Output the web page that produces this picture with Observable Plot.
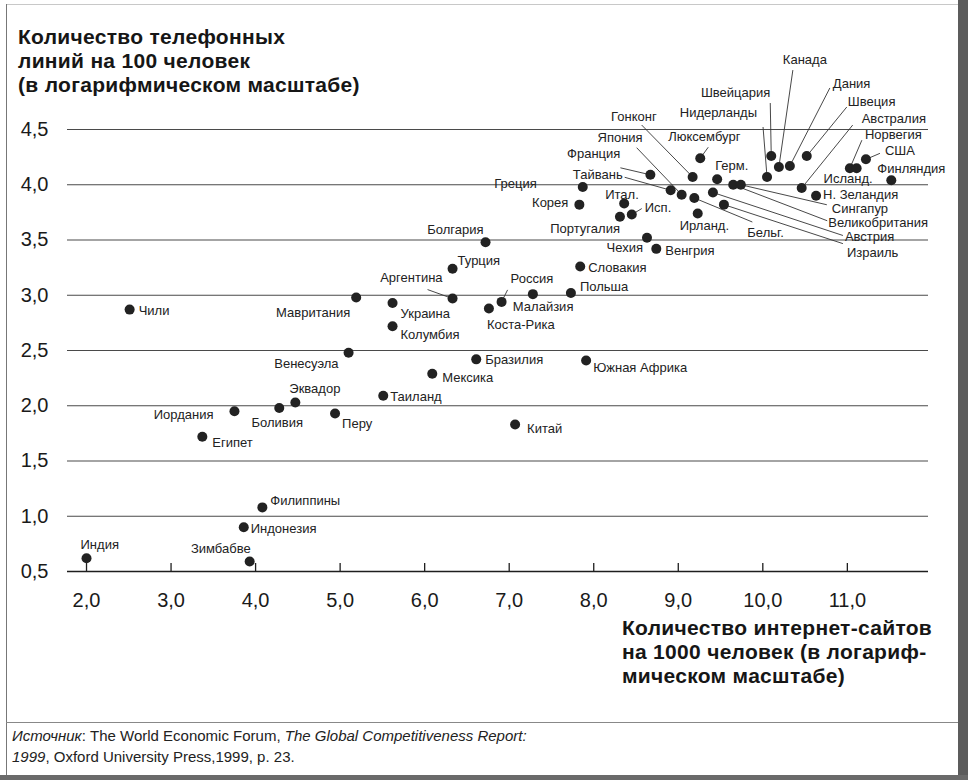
<!DOCTYPE html>
<html>
<head>
<meta charset="utf-8">
<script src="https://cdn.jsdelivr.net/npm/d3@7"></script>
<script src="https://cdn.jsdelivr.net/npm/@observablehq/plot@0.6"></script>
<style>
  body { margin: 0; background: #fff; }
  #page {
    position: relative; width: 968px; height: 780px; overflow: hidden; background: #fff;
    font-family: "Liberation Sans", Arial, Helvetica, sans-serif; color: #1a1a1a;
  }
  .frame-left { position: absolute; left: 6px; top: 4px; width: 1px; height: 772px; background: #777; }
  .frame-top { position: absolute; left: 6px; top: 4px; width: 952px; height: 1px; background: #c8c8c8; }
  .frame-right { position: absolute; left: 958px; top: 0; width: 10px; height: 780px; background: #5c5c5c; }
  .frame-bottom { position: absolute; left: 0; top: 775px; width: 968px; height: 5px; background: #6a6a6a; }
  .ytitle, .xtitle { position: absolute; font-weight: bold; font-size: 21px; letter-spacing: 0.3px; line-height: 24px; color: #161616; z-index: 2; }
  .ytitle { left: 18px; top: 25px; }
  .xtitle { left: 622px; top: 616px; }
  #chart { position: absolute; left: 0; top: 0; z-index: 1; }
  .rule { position: absolute; left: 6px; top: 722px; width: 952px; height: 1px; background: #888; }
  .source { position: absolute; left: 12px; top: 725px; font-size: 15px; line-height: 21px; color: #222; }
</style>
</head>
<body>
<div id="page">
  <div class="frame-top"></div>
  <div class="frame-left"></div>
  <div id="chart"></div>
  <div class="ytitle">Количество телефонных<br>линий на 100 человек<br>(в логарифмическом масштабе)</div>
  <div class="xtitle">Количество интернет-сайтов<br>на 1000 человек (в логариф-<br>мическом масштабе)</div>
  <div class="rule"></div>
  <div class="source"><i>Источник</i>: The World Economic Forum, <i>The Global Competitiveness Report:<br>1999</i>, Oxford University Press,1999, p. 23.</div>
  <div class="frame-right"></div>
  <div class="frame-bottom"></div>
</div>
<script>
// Countries, internet sites per 1000 people (log) and phone lines per 100 people (log)
const countries = [
  "Индия", "Зимбабве", "Индонезия", "Филиппины", "Египет", "Иордания", "Боливия", "Эквадор",
  "Перу", "Венесуэла", "Таиланд", "Мексика", "Бразилия", "Южная Африка", "Китай", "Чили",
  "Мавритания", "Украина", "Колумбия", "Аргентина", "Турция", "Болгария", "Коста-Рика", "Россия",
  "Малайзия", "Польша", "Словакия", "Чехия", "Венгрия", "Португалия", "Корея", "Итал.",
  "Исп.", "Греция", "Франция", "Тайвань", "Япония", "Гонконг", "Бельг.", "Люксембург",
  "Ирланд.", "Герм.", "Австрия", "Израиль", "Великобритания", "Сингапур", "Нидерланды", "Швейцария",
  "Канада", "Дания", "Швеция", "Австралия", "Н. Зеландия", "Норвегия", "Исланд.", "США", "Финляндия"
];
const sites = [
  2.00, 3.93, 3.86, 4.08, 3.37, 3.75, 4.28, 4.47,
  4.94, 5.10, 5.51, 6.09, 6.61, 7.91, 7.07, 2.51,
  5.19, 5.62, 5.62, 6.33, 6.33, 6.72, 6.76, 6.91,
  7.28, 7.73, 7.84, 8.63, 8.74, 8.31, 7.83, 8.36,
  8.45, 7.87, 8.67, 8.91, 9.04, 9.17, 9.19, 9.26,
  9.23, 9.46, 9.41, 9.54, 9.65, 9.74, 10.05, 10.10,
  10.19, 10.32, 10.52, 10.46, 10.63, 11.03, 11.11, 11.22, 11.52
];
const phones = [
  0.62, 0.59, 0.90, 1.08, 1.72, 1.95, 1.98, 2.03,
  1.93, 2.48, 2.09, 2.29, 2.42, 2.41, 1.83, 2.87,
  2.98, 2.93, 2.72, 2.97, 3.24, 3.48, 2.88, 2.94,
  3.01, 3.02, 3.26, 3.52, 3.42, 3.71, 3.82, 3.83,
  3.73, 3.98, 4.09, 3.95, 3.91, 4.07, 3.88, 4.24,
  3.74, 4.05, 3.93, 3.82, 4.00, 4.00, 4.07, 4.26,
  4.16, 4.17, 4.26, 3.97, 3.90, 4.15, 4.15, 4.23, 4.04
];
const xTicks = [2, 3, 4, 5, 6, 7, 8, 9, 10, 11];
const yTicks = [0.5, 1, 1.5, 2, 2.5, 3, 3.5, 4, 4.5];

// Label placement: [text anchor, dx px, dy px, optional leader start offset in px]
const labelLayout = {
  "Индия": ["start", -6, -13], "Зимбабве": ["end", 1, -13], "Индонезия": ["start", 7, 2],
  "Филиппины": ["start", 8, -7], "Египет": ["start", 10, 6], "Иордания": ["end", -21, 4],
  "Боливия": ["middle", -2, 15], "Эквадор": ["start", -6, -14], "Перу": ["start", 7, 10],
  "Венесуэла": ["end", -10, 11], "Таиланд": ["start", 7, 1], "Мексика": ["start", 10, 4],
  "Бразилия": ["start", 9, 0], "Южная Африка": ["start", 7, 7], "Китай": ["start", 12, 4],
  "Чили": ["start", 9, 1], "Мавритания": ["end", -6, 15], "Украина": ["start", 8, 11],
  "Колумбия": ["start", 8, 9], "Аргентина": ["end", -10, -21, [-25, -9]], "Турция": ["start", 5, -8],
  "Болгария": ["end", -2, -12], "Коста-Рика": ["start", -2, 16], "Россия": ["start", 9, -23, [6, -12]],
  "Малайзия": ["start", -20, 13], "Польша": ["start", 9, -6], "Словакия": ["start", 8, 1],
  "Чехия": ["end", -4, 10], "Венгрия": ["start", 9, 2], "Португалия": ["end", 0, 12],
  "Корея": ["end", -11, -2], "Итал.": ["start", -19, -9], "Исп.": ["start", 13, -7, [10, -6]],
  "Греция": ["end", -46, -3], "Франция": ["end", -30, -21, [-30, -7]],
  "Тайвань": ["end", -48, -15, [-46, -13]], "Япония": ["end", -39, -57, [-45, -47]],
  "Гонконг": ["end", -36, -60, [-51, -52]], "Бельг.": ["start", 53, 35, [58, 24]],
  "Люксембург": ["start", -32, -21, [8, -11]], "Ирланд.": ["start", -18, 12],
  "Герм.": ["start", -2, -13], "Австрия": ["start", 132, 44, [130, 43]],
  "Израиль": ["start", 123, 48, [119, 39]], "Великобритания": ["start", 95, 38, [94, 36]],
  "Сингапур": ["start", 91, 24, [86, 20]], "Нидерланды": ["end", -10, -64, [-4, -50]],
  "Швейцария": ["end", -1, -63, [-1, -53]], "Канада": ["start", 4, -107, [14, -97]],
  "Дания": ["start", 43, -82, [40, -78]], "Швеция": ["start", 41, -54, [40, -49]],
  "Австралия": ["start", 60, -69, [51, -63]], "Н. Зеландия": ["start", 7, -1],
  "Норвегия": ["start", 15, -33, [12, -28]], "Исланд.": ["end", 16, 11],
  "США": ["start", 19, -9, [14, -6]], "Финляндия": ["start", -14, -12]
};

const width = 968, height = 620;
const marginLeft = 67, marginRight = 40, marginTop = 129, marginBottom = 49;
const xDomain = [1.775, 11.96], yDomain = [0.5, 4.5];

// Linear maps identical to the Plot scales, used to place labels by pixel offsets
const xs = d3.scaleLinear().domain(xDomain).range([marginLeft, width - marginRight]);
const ys = d3.scaleLinear().domain(yDomain).range([height - marginBottom, marginTop]);

const points = countries.map((name, i) => {
  const [anchor, dx, dy, leader] = labelLayout[name];
  const px = xs(sites[i]), py = ys(phones[i]);
  return {
    name, x: sites[i], y: phones[i], anchor,
    lx: xs.invert(px + dx), ly: ys.invert(py + dy),
    leader: leader ? {x1: sites[i], y1: phones[i], x2: xs.invert(px + leader[0]), y2: ys.invert(py + leader[1])} : null
  };
});
const leaders = points.filter(d => d.leader).map(d => d.leader);
const fmt = d => d.toFixed(1).replace(".", ",");
const tickTop = ys.invert(ys(0.5) - 8);
const labelFont = {fontSize: 13, fontFamily: "Liberation Sans, Arial, sans-serif", fill: "#222"};

const chart = Plot.plot({
  width, height, marginLeft, marginRight, marginTop, marginBottom,
  style: {fontFamily: "Liberation Sans, Arial, sans-serif", color: "#1a1a1a", background: "transparent", overflow: "visible"},
  x: {domain: xDomain},
  y: {domain: yDomain},
  marks: [
    Plot.ruleY(yTicks.filter(v => v > 0.5), {stroke: "#4a4a4a", strokeWidth: 1.2}),
    Plot.ruleY([0.5], {stroke: "#1e1e1e", strokeWidth: 1.6}),
    Plot.ruleX(xTicks, {y1: 0.5, y2: tickTop, stroke: "#1e1e1e", strokeWidth: 1.3}),
    Plot.axisX({ticks: xTicks, tickSize: 0, tickPadding: 21, tickFormat: fmt, fontSize: 20, label: null}),
    Plot.axisY({ticks: yTicks, tickSize: 0, tickPadding: 19, tickFormat: fmt, fontSize: 20, label: null}),
    Plot.link(leaders, {x1: "x1", y1: "y1", x2: "x2", y2: "y2", stroke: "#333", strokeWidth: 0.9}),
    Plot.dot(points, {x: "x", y: "y", r: 5, fill: "#222", stroke: "none"}),
    Plot.text(points.filter(d => d.anchor === "start"), {x: "lx", y: "ly", text: "name", textAnchor: "start", ...labelFont}),
    Plot.text(points.filter(d => d.anchor === "end"), {x: "lx", y: "ly", text: "name", textAnchor: "end", ...labelFont}),
    Plot.text(points.filter(d => d.anchor === "middle"), {x: "lx", y: "ly", text: "name", textAnchor: "middle", ...labelFont})
  ]
});
document.getElementById("chart").appendChild(chart);
</script>
</body>
</html>
